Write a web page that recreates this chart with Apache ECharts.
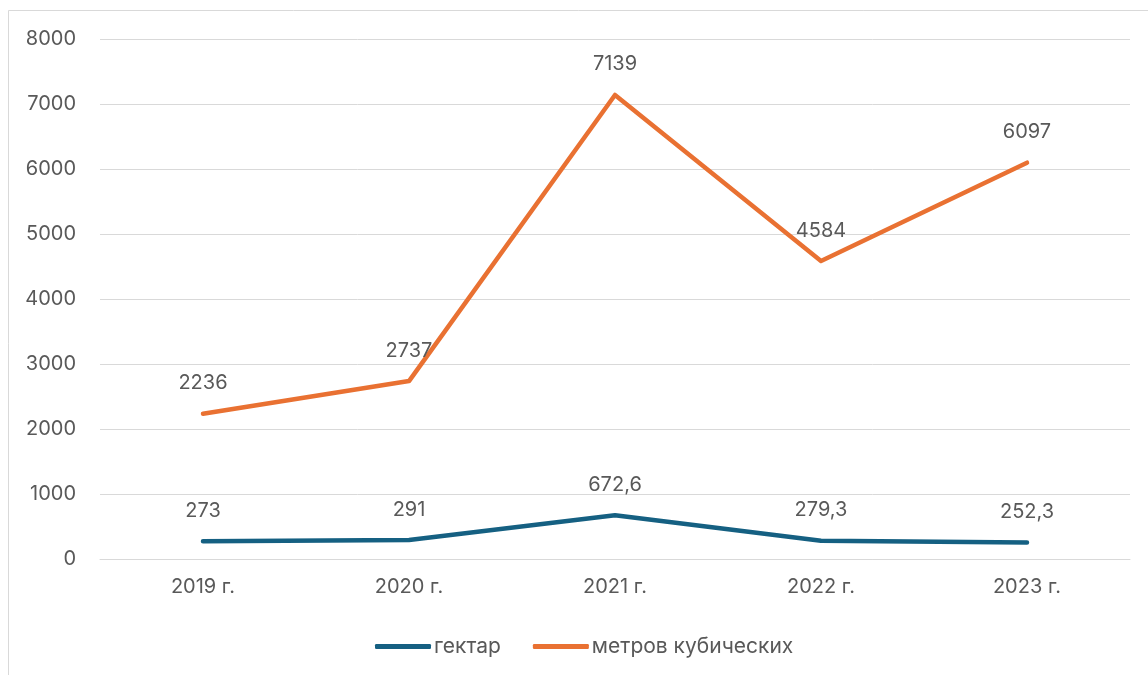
<!DOCTYPE html>
<html>
<head>
<meta charset="utf-8">
<script src="https://cdn.jsdelivr.net/npm/echarts@6/dist/echarts.min.js"></script>
<style>
  html, body { margin: 0; padding: 0; background: #fff; }
  #chart { width: 1148px; height: 675px; }
</style>
</head>
<body>
<div id="chart"></div>
<script>
// Years on the category axis
const years = ['2019 г.', '2020 г.', '2021 г.', '2022 г.', '2023 г.'];
// Area, hectares
const hectares = [273, 291, 672.6, 279.3, 252.3];
// Volume, cubic metres
const cubicMetres = [2236, 2737, 7139, 4584, 6097];
// Value axis range
const yMin = 0, yMax = 8000, yStep = 1000;

const textColor = '#595959';
const font = 'Inter, Roboto, sans-serif';
const fontSize = 20;

const fmt = p => String(p.value).replace('.', ',');

function lineSeries(name, data, color) {
  return {
    name, type: 'line', data,
    symbol: 'circle', symbolSize: 1, showSymbol: true,
    itemStyle: { color },
    lineStyle: { color, width: 4.5, cap: 'round', join: 'round' },
    label: {
      show: true, position: 'top', distance: 20,
      color: textColor, fontSize, fontFamily: font,
      formatter: fmt
    },
    emphasis: { disabled: true },
    animation: false
  };
}

const chart = echarts.init(document.getElementById('chart'), null, { renderer: 'canvas' });
chart.setOption({
  backgroundColor: '#fff',
  graphic: [{
    type: 'rect', silent: true,
    shape: { x: 8.5, y: 10.5, width: 1200, height: 700 },
    style: { fill: 'none', stroke: '#d9d9d9', lineWidth: 1 }
  }],
  grid: { left: 100, right: 18, top: 39, bottom: 116 },
  legend: {
    top: 631, left: 370,
    icon: 'roundRect', itemWidth: 56, itemHeight: 5, itemGap: 32,
    textStyle: { color: textColor, fontSize: 21, fontFamily: font, padding: [0, 0, 0, -2] },
    data: ['гектар', 'метров кубических']
  },
  xAxis: {
    type: 'category', data: years, boundaryGap: true,
    axisLine: { show: true, lineStyle: { color: '#d9d9d9', width: 1 } },
    axisTick: { show: false },
    axisLabel: { color: textColor, fontSize, fontFamily: font, margin: 18 }
  },
  yAxis: {
    type: 'value', min: yMin, max: yMax, interval: yStep,
    axisLine: { show: false }, axisTick: { show: false },
    splitLine: { lineStyle: { color: '#d9d9d9', width: 1 } },
    axisLabel: { color: textColor, fontSize, fontFamily: font, margin: 24, formatter: v => String(v) }
  },
  series: [
    lineSeries('гектар', hectares, '#156082'),
    lineSeries('метров кубических', cubicMetres, '#E97132')
  ]
});
</script>
</body>
</html>
